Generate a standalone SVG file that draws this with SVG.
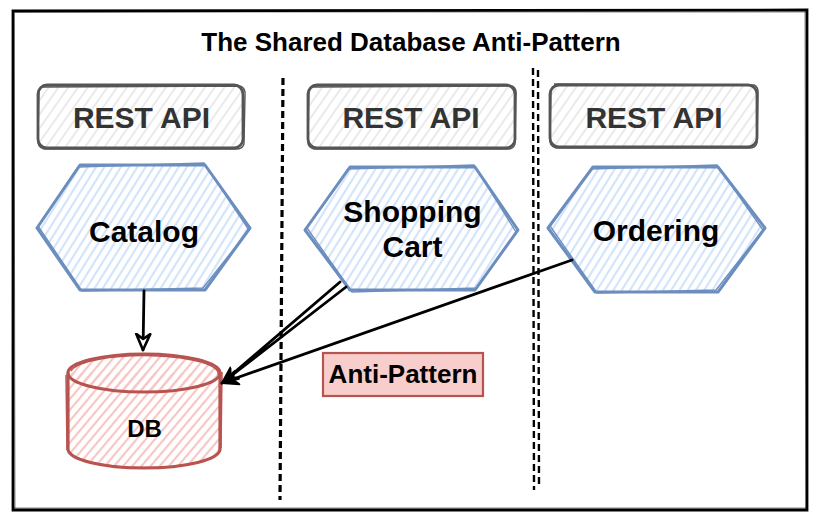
<svg xmlns="http://www.w3.org/2000/svg" width="817" height="521" viewBox="0 0 817 521">
<style>
  .t { font-family: "Liberation Sans", Arial, sans-serif; font-weight: bold; text-anchor: middle; }
  .api { fill: url(#hGray); stroke: #555555; stroke-width: 2.8; }
  .api2 { fill: none; stroke: #555555; stroke-width: 1.4; }
  .hex { fill: url(#hBlue); stroke: #6c8ebf; stroke-width: 3; stroke-linejoin: round; }
  .hex2 { fill: none; stroke: #6c8ebf; stroke-width: 1.4; }
  .db { fill: url(#hRed); stroke: #b85450; stroke-width: 3.2; }
  .db2 { fill: none; stroke: #b85450; stroke-width: 1.5; }
  .conn { fill: none; stroke: #000; stroke-width: 2.8; stroke-linecap: round; }
  .sep { fill: none; stroke: #000; stroke-dasharray: 7 4; }
</style>
<defs>
  <pattern id="hBlue" width="7" height="7" patternUnits="userSpaceOnUse" patternTransform="rotate(32)">
    <line x1="2" y1="0" x2="2" y2="7" stroke="#d3e3fa" stroke-width="2.2"/>
  </pattern>
  <pattern id="hGray" width="8" height="8" patternUnits="userSpaceOnUse" patternTransform="rotate(35)">
    <line x1="2" y1="0" x2="2" y2="8" stroke="#e8e8e8" stroke-width="1.8"/>
  </pattern>
  <pattern id="hRed" width="7" height="7" patternUnits="userSpaceOnUse" patternTransform="rotate(40)">
    <line x1="2" y1="0" x2="2" y2="7" stroke="#f6c6c4" stroke-width="2.2"/>
  </pattern>
  <marker id="openArrow" markerUnits="userSpaceOnUse" markerWidth="24" markerHeight="24" refX="17" refY="9" orient="auto">
    <path d="M1,2 L17,9 L1,16 L6,9 Z" fill="#fff" stroke="#000" stroke-width="2.6" stroke-linejoin="round"/>
  </marker>
  <marker id="fillArrow" markerUnits="userSpaceOnUse" markerWidth="24" markerHeight="24" refX="17" refY="9" orient="auto">
    <path d="M1,2 L17,9 L1,16 L6,9 Z" fill="#000" stroke="#000" stroke-width="2" stroke-linejoin="round"/>
  </marker>
</defs>

<rect x="0" y="0" width="817" height="521" fill="#ffffff"/>

<g id="frame">
  <path d="M13,11 L807,10 L807,510 L13,510 Z" fill="none" stroke="#000" stroke-width="2.8"/>
  <path d="M15,12 L806,12 M805,12 L806,508 M806,508 L14,508 M15,508 L14,13" fill="none" stroke="#000" stroke-width="0.8" opacity="0.6"/>
  <text class="t" x="411" y="51" font-size="26" fill="#000">The Shared Database Anti-Pattern</text>
</g>

<g id="separators">
  <path class="sep" d="M283,78 L280,500" stroke-width="3.2"/>
  <path class="sep" d="M533,68 L534,490" stroke-width="2.4"/>
  <path class="sep" d="M538,70 L539,488" stroke-width="2.4"/>
</g>

<g id="rest-api-1">
  <rect class="api" x="38" y="85" width="205" height="63" rx="9"/>
  <path class="api2" d="M42,87 L240,86 Q246,88 245,96 L244,144 Q242,150 234,149 L44,149 Q37,147 38,140 L39,92 Q40,86 46,86"/>
  <text class="t" x="141.5" y="128" font-size="30" fill="#333333">REST API</text>
</g>
<g id="rest-api-2">
  <rect class="api" x="308" y="85" width="207" height="63" rx="9"/>
  <path class="api2" d="M312,87 L512,86 Q517,88 516,96 L515,144 Q513,150 505,149 L314,149 Q307,147 308,140 L309,92 Q310,86 316,86"/>
  <text class="t" x="411" y="128" font-size="30" fill="#333333">REST API</text>
</g>
<g id="rest-api-3">
  <rect class="api" x="550" y="85" width="207" height="62" rx="9"/>
  <path class="api2" d="M554,84 L754,85 Q759,87 758,95 L757,143 Q755,149 747,148 L556,148 Q549,146 550,139 L551,91 Q552,85 558,85"/>
  <text class="t" x="654" y="128" font-size="30" fill="#333333">REST API</text>
</g>

<g id="catalog">
  <polygon class="hex" points="80,165 205,165 250,228 205,290 80,290 37,228"/>
  <path class="hex2" d="M78,167 L204,163 L249,230 L203,288 L82,291 L38,226 Z"/>
  <text class="t" x="144" y="242" font-size="30" fill="#000">Catalog</text>
</g>
<g id="shopping-cart">
  <polygon class="hex" points="350,167 475,167 518,230 475,290 350,290 305,230"/>
  <path class="hex2" d="M348,169 L474,165 L516,232 L477,288 L352,292 L307,228 Z"/>
  <text class="t" x="412.5" y="222" font-size="30" fill="#000">Shopping</text>
  <text class="t" x="412.5" y="257" font-size="30" fill="#000">Cart</text>
</g>
<g id="ordering">
  <polygon class="hex" points="593,167 718,167 765,228 718,292 595,292 548,228"/>
  <path class="hex2" d="M591,169 L717,165 L763,230 L716,290 L597,293 L550,226 Z"/>
  <text class="t" x="656" y="241" font-size="30" fill="#000">Ordering</text>
</g>

<g id="db">
  <path class="db" d="M68,373 A76,19 0 0 1 220,373 L220,449 A76,19 0 0 1 68,449 Z"/>
  <path class="db" d="M68,373 A76,19 0 0 0 220,373" fill="none"/>
  <path class="db2" d="M71,371 A74,18 0 0 1 218,375 M66,375 L67,450 M222,372 L221,448 M70,452 A75,18 0 0 0 219,447"/>
  <text class="t" x="144.5" y="437" font-size="24" fill="#000">DB</text>
</g>

<g id="anti-pattern-label">
  <rect x="323" y="353" width="160" height="43" fill="#f8cecc" stroke="#b85450" stroke-width="2.2"/>
  <text class="t" x="403" y="383" font-size="26" fill="#000">Anti-Pattern</text>
</g>

<g id="connectors">
  <path class="conn" d="M144,291 L143,350" marker-end="url(#openArrow)"/>
  <path class="conn" d="M340,282 L222,383 M346,287 L222,383" stroke-width="2.2" marker-end="url(#fillArrow)"/>
  <path class="conn" d="M572,260 L222,383" marker-end="url(#fillArrow)"/>
</g>
</svg>
